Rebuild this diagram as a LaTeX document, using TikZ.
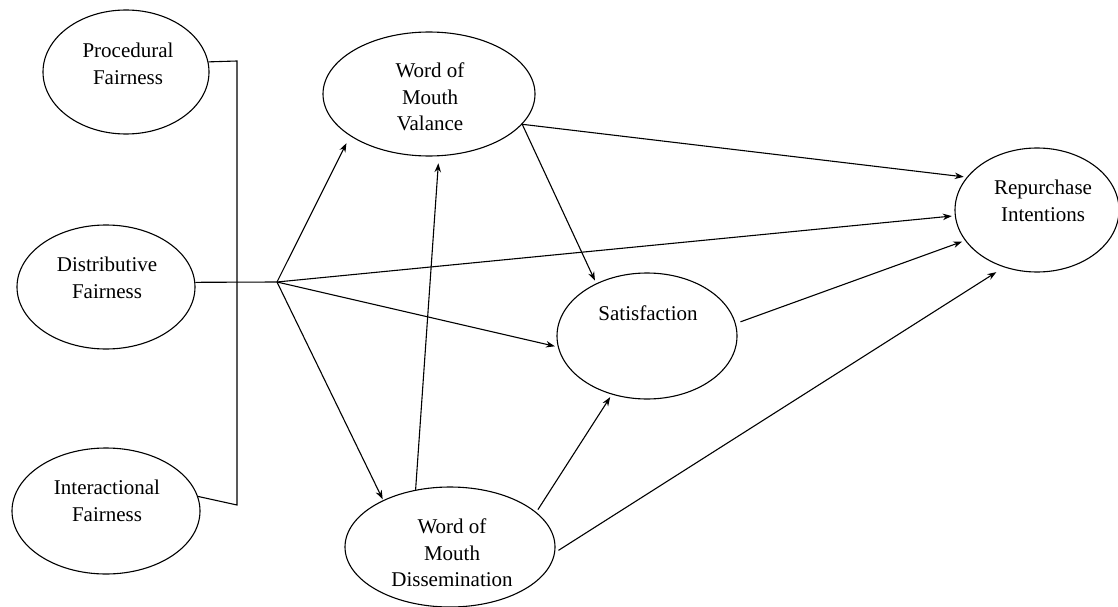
\documentclass[tikz,border=0pt]{standalone}
\usepackage{fontspec}
\setmainfont{Liberation Serif}
\usetikzlibrary{arrows.meta,shapes.geometric}
\tikzset{
  oval/.style={draw=black, ellipse, line width=1.1pt, inner sep=0pt},
  lbl/.style={align=center, font=\fontsize{21}{26.5}\selectfont, inner sep=0pt},
  conn/.style={line width=1.1pt},
  arr/.style={line width=1.1pt, -{Stealth[length=9pt,width=6.5pt]}, shorten >=3pt}
}
\begin{document}
\begin{tikzpicture}[x=1pt,y=-1pt]
\useasboundingbox (0,0) rectangle (1118,607);
% ellipses
\node[oval, minimum width=166pt, minimum height=124pt] (pf) at (126,72) {};
\node[oval, minimum width=178pt, minimum height=124pt] (df) at (106,287) {};
\node[oval, minimum width=188pt, minimum height=126pt] (if) at (106,511) {};
\node[oval, minimum width=212pt, minimum height=124pt] (wv) at (429,94) {};
\node[oval, minimum width=180pt, minimum height=126pt] (sat) at (647,336) {};
\node[oval, minimum width=164pt, minimum height=124pt] (ri) at (1037,210) {};
\node[oval, minimum width=210pt, minimum height=120pt] (wd) at (450,547) {};
% texts
\node[lbl] (pft) at (128,64) {Procedural\\Fairness};
\node[lbl] (dft) at (107,278) {Distributive\\Fairness};
\node[lbl] (ift) at (107,501) {Interactional\\Fairness};
\node[lbl] (wvt) at (430,97) {Word of\\Mouth\\Valance};
\node[lbl] (satt) at (648,313) {Satisfaction};
\node[lbl] (rit) at (1043,201) {Repurchase\\Intentions};
\node[lbl] (wdt) at (452,553) {Word of\\Mouth\\Dissemination};
% bus and hub
\coordinate (bt) at (237,61);
\coordinate (bb) at (237,505);
\coordinate (hub) at (277,282);
\draw[conn] (pf.7) -- (bt) -- (bb) -- (if.9);
\draw[conn] (df.3) -- (hub);
% arrows
\draw[arr, shorten >=8pt] (hub) -- (wv.208);
\draw[arr] (hub) -- (sat.187);
\draw[arr] (hub) -- (ri.184);
\draw[arr, shorten >=1pt] (hub) -- (wd.145);
\draw[arr, shorten >=7pt] (wd.121) -- (wv.279);
\draw[arr] (wv.342) -- (ri.155);
\draw[arr] (wv.342) -- (sat.134);
\draw[arr, shorten <=5pt] (sat.8) -- (ri.203);
\draw[arr, shorten <=3pt] (wd.22) -- (sat.239);
\draw[arr, shorten <=4pt, shorten >=9pt] (wd.357) -- (ri.240);
\end{tikzpicture}
\end{document}
